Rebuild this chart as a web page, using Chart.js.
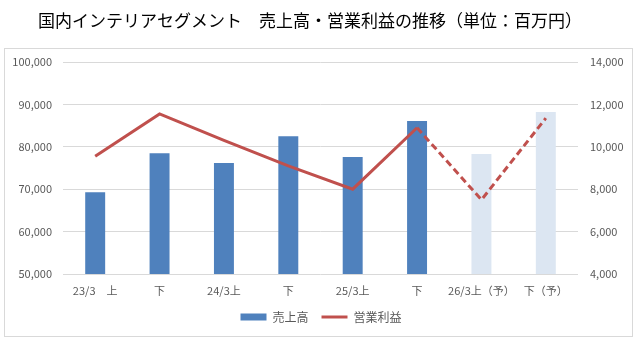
<!DOCTYPE html>
<html>
<head>
<meta charset="utf-8">
<script src="https://cdn.jsdelivr.net/npm/chart.js@4"></script>
<style>
  html, body { margin: 0; padding: 0; background: #fff; }
  #wrap { width: 642px; height: 343px; }
</style>
</head>
<body>
<div id="wrap"><canvas id="chart" width="642" height="343"></canvas></div>
<script>
const titleText = "国内インテリアセグメント　売上高・営業利益の推移（単位：百万円）";
const labels = ["23/3　上", "下", "24/3上", "下", "25/3上", "下", "26/3上（予）", "下（予）"];
const sales = [69300, 78500, 76200, 82500, 77600, 86100, 78300, 88200];
const profit = [9550, 11550, 10300, 9100, 8000, 10900, 7500, 11350];
const forecastFrom = 6; // index of first forecast period

const FONT = "'Noto Sans CJK JP', 'Noto Sans', sans-serif";
const barColors = sales.map((v, i) => i >= forecastFrom ? '#DCE6F2' : '#4F81BD');

// frame + title
const frame = {
    id: 'frame',
    beforeDraw(chart) {
        const ctx = chart.ctx;
        ctx.save();
        ctx.fillStyle = '#fff';
        ctx.fillRect(0, 0, chart.width, chart.height);
        ctx.strokeStyle = '#D9D9D9';
        ctx.lineWidth = 1;
        ctx.strokeRect(4.5, 48.5, 628, 288);
        ctx.fillStyle = '#000';
        ctx.font = "17px " + FONT;
        ctx.textAlign = 'center';
        ctx.textBaseline = 'middle';
        ctx.fillText(titleText, 310, 21);
        ctx.restore();
    }
};

new Chart(document.getElementById('chart'), {
    data: {
        labels: labels,
        datasets: [{
            type: 'line',
            label: '営業利益',
            data: profit,
            yAxisID: 'y1',
            borderColor: '#C0504D',
            backgroundColor: '#C0504D',
            borderWidth: 3,
            pointRadius: 0,
            pointStyle: 'line',
            tension: 0,
            order: 1,
            segment: {
                borderDash: c => c.p1DataIndex >= forecastFrom ? [7, 4] : undefined
            }
        }, {
            type: 'bar',
            label: '売上高',
            data: sales,
            yAxisID: 'y',
            backgroundColor: barColors,
            borderWidth: 0,
            pointStyle: 'rect',
            categoryPercentage: 1,
            barPercentage: 0.31,
            order: 2
        }]
    },
    options: {
        responsive: false,
        animation: false,
        layout: { padding: { left: 0, right: 0, top: 62, bottom: 10 } },
        plugins: {
            title: { display: false },
            tooltip: { enabled: false },
            legend: {
                position: 'bottom',
                reverse: true,
                labels: {
                    usePointStyle: true,
                    pointStyleWidth: 26,
                    boxWidth: 26,
                    boxHeight: 7,
                    padding: 13,
                    color: '#595959',
                    font: { family: FONT, size: 12 }
                }
            }
        },
        scales: {
            x: {
                grid: { display: false, drawTicks: false },
                border: { display: false },
                ticks: {
                    color: '#595959',
                    font: { family: FONT, size: 11 },
                    padding: 10,
                    maxRotation: 0,
                    autoSkip: false
                },
                afterFit: s => { s.height = 24; }
            },
            y: {
                position: 'left',
                min: 50000,
                max: 100000,
                grid: { color: '#D9D9D9', drawTicks: false },
                border: { display: false },
                ticks: {
                    stepSize: 10000,
                    padding: 11,
                    color: '#595959',
                    font: { family: FONT, size: 11 },
                    callback: v => v.toLocaleString('en-US')
                },
                afterFit: s => { s.width = 63; }
            },
            y1: {
                position: 'right',
                min: 4000,
                max: 14000,
                grid: { display: false, drawTicks: false },
                border: { display: false },
                ticks: {
                    stepSize: 2000,
                    padding: 12,
                    color: '#595959',
                    font: { family: FONT, size: 11 },
                    callback: v => v.toLocaleString('en-US')
                },
                afterFit: s => { s.width = 64; }
            }
        }
    },
    plugins: [frame]
});
</script>
</body>
</html>
